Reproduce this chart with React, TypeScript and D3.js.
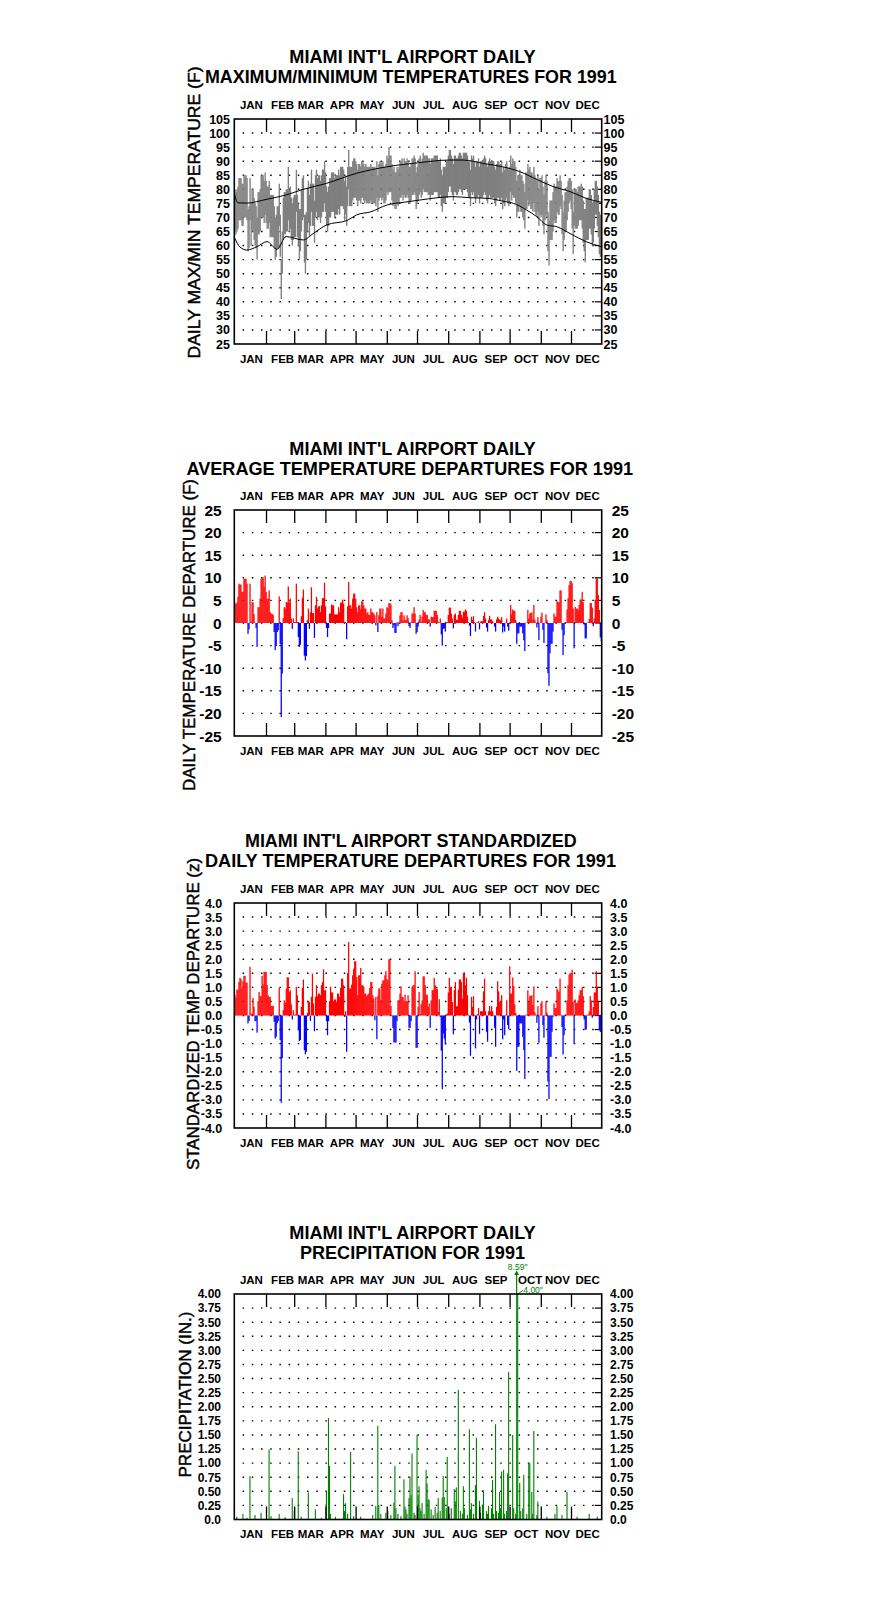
import * as d3 from "d3";

// ---- data (1991, Miami Int'l Airport) ----
const MONTHS = ["JAN", "FEB", "MAR", "APR", "MAY", "JUN", "JUL", "AUG", "SEP", "OCT", "NOV", "DEC"];
const MONTH_START = [0, 31, 59, 90, 120, 151, 181, 212, 243, 273, 304, 334];

const TEMP_TICKS = [105, 100, 95, 90, 85, 80, 75, 70, 65, 60, 55, 50, 45, 40, 35, 30, 25];
const DEP_TICKS = [25, 20, 15, 10, 5, 0, -5, -10, -15, -20, -25];
const Z_TICKS = [4, 3.5, 3, 2.5, 2, 1.5, 1, 0.5, 0, -0.5, -1, -1.5, -2, -2.5, -3, -3.5, -4];
const PRECIP_TICKS = [4, 3.75, 3.5, 3.25, 3, 2.75, 2.5, 2.25, 2, 1.75, 1.5, 1.25, 1, 0.75, 0.5, 0.25, 0];

// daily max / min temperature (F)
const maxTemp = [
  80, 79, 80, 81, 84, 84, 84, 82, 82, 85, 85, 85, 84, 73, 74, 84, 75, 80, 80, 77, 75, 74, 70, 79, 79, 80, 85, 85, 85, 83, 86,
  83, 81, 81, 83, 78, 78, 78, 78, 74, 70, 71, 74, 74, 82, 71, 55, 65, 77, 79, 79, 80, 80, 88, 80, 81, 77, 75, 77,
  78, 78, 87, 78, 75, 73, 73, 80, 84, 85, 71, 71, 72, 80, 83, 78, 82, 87, 82, 82, 76, 85, 87, 84, 85, 85, 83, 85, 87, 87, 90,
  86, 81, 79, 81, 84, 84, 86, 86, 86, 84, 85, 85, 85, 87, 85, 88, 88, 88, 87, 83, 85, 81, 88, 94, 88, 88, 88, 90, 91, 91,
  90, 89, 87, 89, 89, 88, 90, 90, 89, 88, 89, 88, 88, 88, 88, 89, 88, 88, 88, 88, 87, 90, 85, 89, 90, 90, 89, 90, 88, 88, 89,
  92, 91, 95, 92, 92, 89, 87, 88, 86, 86, 88, 87, 88, 90, 90, 91, 89, 91, 90, 90, 91, 90, 88, 88, 89, 91, 91, 92, 91, 86,
  88, 89, 91, 92, 90, 91, 93, 92, 92, 92, 92, 91, 91, 89, 91, 91, 91, 92, 92, 92, 92, 90, 90, 91, 87, 85, 88, 88, 88, 90, 90,
  92, 94, 94, 92, 91, 89, 92, 92, 91, 91, 92, 93, 93, 92, 91, 93, 93, 93, 93, 92, 90, 90, 87, 92, 91, 92, 90, 88, 90, 90, 91,
  88, 90, 90, 90, 91, 92, 91, 89, 88, 90, 91, 90, 90, 90, 90, 88, 87, 89, 90, 90, 89, 89, 90, 86, 88, 87, 89, 90, 88, 87,
  88, 92, 89, 91, 90, 90, 88, 83, 85, 85, 87, 85, 85, 83, 82, 79, 86, 86, 89, 87, 88, 86, 86, 85, 88, 85, 84, 83, 85, 80, 84,
  84, 85, 81, 78, 83, 85, 83, 72, 69, 76, 76, 76, 79, 82, 81, 81, 84, 83, 83, 85, 83, 78, 72, 76, 79, 79, 81, 83, 84, 84,
  83, 80, 72, 80, 80, 80, 79, 81, 81, 81, 82, 81, 76, 73, 73, 77, 77, 77, 80, 80, 78, 75, 76, 80, 83, 83, 81, 78, 72, 71, 71,
];
const minTemp = [
  65, 64, 65, 66, 69, 69, 69, 67, 67, 70, 70, 70, 69, 58, 59, 69, 60, 65, 65, 62, 60, 59, 55, 64, 64, 65, 70, 70, 70, 68, 71,
  68, 66, 66, 68, 63, 63, 63, 63, 59, 55, 56, 59, 59, 67, 56, 41, 50, 62, 64, 64, 65, 65, 69, 65, 66, 62, 60, 62,
  63, 63, 72, 63, 60, 55, 58, 65, 69, 70, 54, 50, 55, 65, 68, 63, 67, 72, 67, 67, 61, 70, 72, 69, 70, 70, 68, 70, 72, 72, 75,
  72, 67, 65, 67, 70, 70, 72, 72, 72, 70, 71, 71, 71, 73, 71, 74, 74, 74, 73, 69, 71, 67, 74, 80, 74, 74, 74, 76, 77, 77,
  77, 76, 74, 76, 76, 75, 77, 77, 76, 75, 76, 75, 75, 75, 75, 76, 75, 75, 75, 75, 74, 77, 72, 76, 77, 77, 76, 77, 75, 75, 76,
  79, 78, 79, 79, 79, 76, 74, 75, 73, 73, 75, 74, 75, 77, 77, 78, 76, 78, 77, 77, 78, 77, 75, 75, 76, 78, 78, 79, 78, 73,
  75, 76, 78, 79, 77, 78, 80, 79, 79, 79, 79, 78, 78, 76, 78, 78, 78, 79, 79, 79, 79, 77, 77, 78, 74, 72, 75, 75, 75, 77, 77,
  79, 81, 81, 79, 78, 76, 79, 79, 78, 78, 79, 80, 80, 79, 78, 80, 80, 80, 80, 79, 77, 77, 74, 79, 78, 79, 77, 75, 77, 77, 78,
  75, 77, 77, 77, 78, 79, 78, 76, 75, 77, 78, 77, 77, 77, 77, 75, 74, 76, 77, 77, 76, 76, 77, 73, 75, 74, 76, 77, 75, 74,
  75, 79, 76, 78, 77, 77, 75, 70, 72, 72, 74, 72, 72, 70, 69, 66, 73, 73, 76, 74, 75, 73, 73, 72, 75, 72, 71, 70, 72, 67, 71,
  70, 71, 67, 64, 69, 71, 70, 58, 53, 62, 62, 62, 65, 69, 68, 68, 72, 71, 71, 74, 73, 64, 58, 62, 65, 65, 69, 72, 75, 76,
  73, 66, 57, 67, 66, 66, 66, 67, 69, 69, 69, 66, 61, 58, 54, 62, 62, 62, 66, 66, 64, 60, 61, 66, 71, 71, 67, 63, 57, 56, 56,
];

// normal max / min curves (day of year, F)
const normMaxDays = [0, 3, 12, 31, 51, 68, 91, 121, 151, 184, 213, 227, 247, 266, 283, 300, 316, 333, 349, 364];
const normMaxVals = [78, 75.2, 75.1, 76.4, 78, 80, 82.1, 85.7, 88, 89.5, 90.4, 90.4, 89.2, 88, 86.3, 83.5, 81, 79.2, 76.8, 75.4];
const normMinDays = [0, 5, 12, 22, 32, 42, 51, 68, 78, 91, 112, 121, 135, 151, 168, 184, 201, 217, 234, 251, 266, 277, 290, 300, 310, 320, 333, 349, 364];
const normMinVals = [62.6, 59.5, 58.4, 59.6, 61.4, 58.7, 63.2, 62, 64.3, 67.3, 69, 70.9, 72, 74.4, 75.4, 76.2, 77, 77.4, 77, 76.8, 75.8, 75, 72.6, 70.3, 67.3, 66.7, 64.3, 61.4, 59.6];

// daily average temperature departure (F)
const tempDeparture = [
  4.5, 4.2, 4.5, 5.8, 8.7, 8.5, 8.5, 6.9, 6.9, 9.8, 9.8, 9.8, 8.7, -2.4, -1.4, 8.7, 0.3, 4.6, 4.6, 2.0, 0.1, -1.1, -5.3, 3.5, 3.5, 5.4, 9.8, 9.8, 10.1, 8.1, 10.5,
  6.9, 5.4, 5.4, 7.2, 2.4, 2.1, 2.0, 1.8, -2.0, -6.0, -5.1, -2.0, -1.6, 5.9, -4.7, -20.8, -11.2, 1.1, 3.5, 3.2, 4.6, 4.6, 8.1, 4.6, 5.4, 1.0, -1.3, 1.0,
  0.2, 0.2, 8.7, 0.2, -3.1, -5.3, -4.8, 1.5, 5.6, 7.4, -7.2, -8.3, -7.3, 0.6, 3.2, -1.3, 2.4, 7.9, 2.2, 2.2, -3.3, 3.9, 5.8, 3.2, 3.7, 3.7, 2.4, 3.9, 5.5, 5.5, 8.9,
  3.7, -1.1, -3.1, -1.1, 2.1, 2.1, 4.1, 3.9, 3.9, 1.9, 1.9, 1.9, 1.9, 3.5, 2.4, 4.5, 4.5, 5.2, 4.3, 0.2, 0.2, -3.6, 3.7, 9.1, 3.9, 3.9, 3.2, 5.4, 6.5, 6.5,
  5.4, 3.5, 2.4, 3.9, 3.9, 3.0, 4.8, 4.8, 3.9, 3.2, 3.2, 2.1, 2.4, 1.8, 1.8, 3.2, 2.4, 2.4, 2.1, 1.7, -0.5, 2.4, -2.0, 1.7, 3.2, 3.2, 1.3, 3.2, 1.0, 1.0, 2.1,
  3.5, 3.3, 4.4, 4.4, 4.1, 0.6, -1.1, -0.5, -2.2, -2.2, 0.2, -0.7, 0.2, 1.7, 2.4, 2.4, 0.6, 1.7, 0.7, 0.7, 1.7, 1.1, -0.7, -1.1, 0.2, 2.1, 2.1, 3.5, 2.1, -2.4,
  -2.0, -0.8, 0.8, 1.8, 0.3, 1.4, 2.9, 2.4, 2.4, 1.8, 1.8, 0.8, 0.8, -0.8, 1.4, 1.3, 1.3, 2.7, 2.7, 2.7, 1.8, 0.3, 0.1, 1.0, -2.5, -5.0, -1.3, -1.2, -1.9, 0.1, 0.2,
  1.8, 3.4, 3.4, 2.1, 1.0, -1.2, 1.8, 2.1, 0.7, 0.7, 1.8, 2.7, 2.7, 1.8, 1.2, 2.5, 2.5, 3.0, 2.7, 1.4, 0.2, -0.6, -2.9, 1.4, 0.7, 1.5, 0.2, -1.9, 0.1, 0.1, 0.4,
  -1.4, 0.3, 0.4, 0.4, 1.6, 2.4, 1.0, -1.0, -1.9, 0.7, 1.6, 0.8, 0.8, 0.4, 0.1, -0.8, -1.9, 0.8, 1.4, 1.0, 0.7, 0.7, 1.3, -2.1, -0.8, -1.9, 0.1, 1.0, -0.8, -1.7,
  0.1, 4.0, 1.9, 3.0, 2.7, 2.7, 0.7, -4.6, -2.3, -2.3, -0.8, -0.8, -0.8, -2.3, -3.8, -6.2, 0.1, 0.1, 2.9, 1.0, 2.1, 2.3, 2.3, 0.8, 4.0, 0.7, 0.1, -1.0, 1.3, -3.8, 0.1,
  1.4, 2.3, -1.5, -4.4, 0.1, 1.9, 0.7, -11.1, -13.9, -6.7, -4.6, -4.6, -1.9, 2.1, 1.4, 1.4, 4.9, 4.6, 4.6, 7.2, 7.2, -1.5, -7.1, -2.7, 0.1, 0.1, 3.0, 5.5, 8.4, 9.3,
  9.3, 8.8, 3.2, -5.6, 3.6, 3.2, 3.2, 2.9, 4.0, 5.2, 5.2, 6.9, 4.6, -0.4, -3.4, -3.4, 0.1, 0.1, 0.9, 4.4, 4.4, 3.4, -0.7, 1.0, 5.1, 9.9, 9.9, 6.2, 2.9, -3.2, -4.0,
];

// standardized daily departure (z)
const zDeparture = [
  0.74, 0.63, 0.92, 0.92, 1.19, 1.34, 1.3, 0.96, 1.22, 1.41, 1.41, 1.17, 1.17, -0.28, -0.2, 1.73, 0.07, 0.07, 0.63, 0.31, -0.2, -0.2, -0.61, 0.51, 0.84, 0.69, 0.69, 1.41, 1.1, 1.55, 1.55,
  1.55, 1.08, 0.72, 0.66, 0.66, 0.34, 0.34, 0.34, -0.22, -0.82, -0.76, -0.28, -0.2, 0.98, -0.87, -3.1, -1.52, 0.19, 0.54, 0.45, 0.96, 1.36, 1.36, 0.84, 0.9, 0.4, -0.14, 0.19,
  0.03, 0.03, 1.02, 0.72, -0.52, -0.91, -0.87, 0.31, 0.98, 1.28, -1.23, -1.38, -1.29, 0.09, 0.52, 0.48, -0.19, 0.66, 1.49, 0.43, -0.56, 0.66, 1.08, 0.69, 0.78, 0.78, 0.72, 1.08, 1.19, 1.64, 0.9,
  0.9, -0.2, -0.7, -0.2, 0.51, 1.02, 0.82, 0.82, 0.51, 0.57, 0.57, 0.48, 0.78, 0.78, 0.66, 0.98, 1.31, 1.31, 1.08, -0.05, 0.15, -1.29, 1.52, 2.61, 0.96, 0.96, 1.1, 1.43, 1.67, 1.93,
  1.93, 1.37, 0.72, 1.43, 1.43, 1.69, 1.08, 1.08, 1.02, 0.78, 0.78, 0.69, 0.74, 0.78, 0.98, 1.19, 1.19, 0.72, 0.6, -0.17, 0.66, -0.84, 0.69, 0.96, 0.96, 0.54, 1.13, 1.25, 1.25, 1.43, 1.58,
  1.3, 1.25, 2.0, 2.0, 0.34, 0.02, -0.44, -0.96, -0.96, -0.96, -0.2, 0.54, 0.54, 0.78, 1.04, 0.66, 0.66, 0.52, 0.74, 0.51, 0.51, 0.72, -0.44, -0.44, -0.2, 1.02, 1.08, 1.08, 1.57, -1.15,
  -1.15, 0.31, 0.84, 0.05, 0.4, 0.54, 1.39, 1.39, 1.08, 0.74, 0.74, 0.31, 0.43, -0.44, 0.54, 0.9, 0.9, 1.34, 1.08, 0.96, 0.96, 0.13, 0.58, -0.05, -1.25, -2.62, -0.64, -0.82, -1.03, 0.03, 0.07,
  0.82, 1.34, 1.02, 1.02, 0.48, -0.67, 0.9, 1.19, 0.33, 0.33, 0.92, 1.28, 1.28, 1.19, 0.6, 1.49, 1.49, 1.08, 1.34, 0.72, 0.03, -0.25, -1.43, 0.66, 0.31, 0.69, 0.03, -1.17, -0.14, 0.05, 0.27,
  -0.65, 0.15, 0.15, 0.15, 0.86, 1.31, 0.15, -0.58, -0.93, 0.15, 0.34, 0.15, 0.33, 0.15, 0.03, -0.44, -1.11, 0.31, 1.22, 0.86, 0.48, 0.48, 0.72, -0.85, -0.14, -0.7, 0.03, 0.54, -0.34, -0.48,
  1.75, 0.78, 0.78, 1.35, 1.05, 0.4, 0.09, -1.97, -1.11, -1.11, -0.28, -0.28, -0.28, -0.76, -1.23, -2.26, 0.03, 0.03, 0.9, 0.48, 0.7, 0.7, 0.72, 0.37, 1.04, 0.11, 0.03, -0.26, 0.33, -0.97, 0.03,
  0.43, 0.51, -0.34, -0.79, 0.03, 0.51, 0.11, -2.35, -2.97, -1.47, -1.47, -0.58, -0.05, 0.43, 0.27, 0.27, 0.96, 0.9, 0.84, 1.31, 0.03, -0.41, -1.39, -0.7, 0.03, 0.03, 0.54, 1.08, 1.45, 1.51,
  1.51, 1.63, 0.48, -1.0, 0.57, 0.45, 0.45, 0.54, 0.72, 0.9, 0.9, 1.02, 0.69, -0.14, -0.5, -0.5, 0.03, 0.03, 0.15, 0.69, 0.54, -0.08, 0.31, 0.82, 0.82, 1.57, 1.02, 0.48, -0.52, -0.58, -0.58,
];

// daily precipitation (day of year, inches); zero days omitted
const precipDays = [
  2, 8, 12, 15, 20, 26, 34, 36, 44, 50, 57, 59, 63, 66, 73, 80, 86, 91, 93, 94, 95, 100, 108, 109, 110, 112, 115, 118,
  125, 137, 140, 142, 143, 145, 150, 152, 155, 158, 159, 160, 162, 165, 168, 169, 170, 171, 173, 174, 175, 176, 178, 179,
  181, 182, 183, 184, 185, 186, 188, 190, 191, 192, 193, 195, 197, 199, 201, 202, 204, 206, 207, 208, 210, 211,
  213, 215, 218, 219, 220, 222, 224, 226, 227, 228, 231, 233, 234, 235, 237, 239, 240,
  243, 244, 246, 247, 250, 251, 252, 255, 256, 257, 259, 260, 262, 263, 264, 265, 267, 268, 270, 271, 272,
  276, 277, 279, 280, 281, 283, 284, 286, 287, 290, 292, 293, 295, 296, 297, 300, 301, 310, 318, 320, 325, 330, 340, 352, 360,
];
const precipInches = [
  0.05, 0.1, 0.03, 0.77, 0.08, 0.12, 1.24, 0.06, 0.1, 0.04, 0.38, 0.15, 1.21, 0.05, 0.48, 0.18, 0.03, 0.5, 1.8, 0.95, 0.1, 0.05, 0.45, 0.15, 0.29, 0.1, 1.2, 0.06,
  0.05, 0.08, 0.24, 1.66, 0.26, 0.1, 0.12, 0.15, 0.08, 0.3, 0.95, 0.2, 0.1, 0.06, 0.71, 0.23, 0.18, 0.1, 0.38, 0.76, 0.43, 1.17, 0.12, 0.08,
  1.5, 0.43, 0.59, 0.2, 0.15, 0.29, 0.1, 0.88, 0.64, 0.36, 0.35, 0.18, 0.08, 0.22, 0.12, 0.38, 0.15, 0.39, 0.77, 0.4, 0.2, 1.11,
  0.1, 0.2, 0.54, 0.32, 0.57, 2.3, 0.15, 0.1, 0.59, 0.2, 0.08, 1.6, 0.18, 0.29, 0.1, 0.61, 1.45,
  0.33, 0.12, 0.26, 0.52, 0.15, 0.1, 0.24, 0.2, 0.7, 0.1, 1.69, 0.15, 0.12, 0.49, 0.2, 0.85, 0.88, 0.1, 0.15, 0.82, 2.62,
  1.5, 0.2, 0.1, 8.59, 4.0, 0.65, 0.15, 0.2, 0.79, 0.1, 1.01, 1.0, 0.49, 0.1, 1.57, 0.08, 0.32, 0.05, 0.1, 0.24, 0.08, 0.49, 0.05, 0.1, 0.05,
];

// ---- layout ----
const FONT = "'Liberation Sans', Arial, Helvetica, sans-serif";
const X0 = 234.3;
const X1 = 601.7;
const x = d3.scaleLinear().domain([0, 365]).range([X0, X1]);

type PanelCfg = {
  top: number;
  bottom: number;
  domain: [number, number];
  ticks: number[];
  fmt: (v: number) => string;
  labelSize: number;
  leftX: number;
  rightX: number;
  titles: string[];
  titleY: number[];
  titleX: number[];
  titleW: number[];
  yTitle: string;
  yTitleX: number;
  yTitleY: number;
  yTitleW: number;
  topMonthShift?: Record<number, number>;
};

const L1 = "MIAMI INT'L AIRPORT DAILY";

const P1: PanelCfg = {
  top: 119, bottom: 344, domain: [25, 105], ticks: TEMP_TICKS, fmt: (v) => String(v),
  labelSize: 12.5, leftX: 230, rightX: 603.5,
  titles: [L1, "MAXIMUM/MINIMUM TEMPERATURES FOR 1991"], titleY: [63.3, 83.3], titleX: [412.5, 410.8], titleW: [246.3, 411.7],
  yTitle: "DAILY MAX/MIN TEMPERATURE (F)", yTitleX: 200, yTitleY: 212.5, yTitleW: 292,
};
const P2: PanelCfg = {
  top: 510, bottom: 736, domain: [-25, 25], ticks: DEP_TICKS, fmt: (v) => String(v),
  labelSize: 15.5, leftX: 221.7, rightX: 611.7,
  titles: [L1, "AVERAGE TEMPERATURE DEPARTURES FOR 1991"], titleY: [455, 475], titleX: [412.5, 409.8], titleW: [246.3, 446.7],
  yTitle: "DAILY TEMPERATURE DEPARTURE (F)", yTitleX: 195, yTitleY: 635, yTitleW: 312,
};
const P3: PanelCfg = {
  top: 903, bottom: 1128, domain: [-4, 4], ticks: Z_TICKS, fmt: (v) => v.toFixed(1),
  labelSize: 12.5, leftX: 222.3, rightX: 610,
  titles: ["MIAMI INT'L AIRPORT STANDARDIZED", "DAILY TEMPERATURE DEPARTURES FOR 1991"], titleY: [847.3, 867.3], titleX: [410.8, 410.5], titleW: [331.7, 411],
  yTitle: "STANDARDIZED TEMP DEPARTURE (z)", yTitleX: 199.3, yTitleY: 1014, yTitleW: 312,
};
const P4: PanelCfg = {
  top: 1294, bottom: 1519.5, domain: [0, 4], ticks: PRECIP_TICKS, fmt: (v) => (v === 0 ? "0.0" : v.toFixed(2)),
  labelSize: 12, leftX: 221, rightX: 610,
  titles: [L1, "PRECIPITATION FOR 1991"], titleY: [1239.3, 1259], titleX: [412.5, 412.5], titleW: [246.3, 225],
  yTitle: "PRECIPITATION (IN.)", yTitleX: 190.7, yTitleY: 1394.5, yTitleW: 166,
  topMonthShift: { 9: 4 },
};

function Panel({ cfg, children }: { cfg: PanelCfg; children: (y: d3.ScaleLinear<number, number>) => any }) {
  const y = d3.scaleLinear().domain(cfg.domain).range([cfg.bottom, cfg.top]);
  const [lo, hi] = cfg.domain;
  const gridVals = cfg.ticks.filter((t) => t !== lo && t !== hi);
  return (
    <g fontFamily={FONT}>
      {cfg.titles.map((t, i) => (
        <text key={t} x={cfg.titleX[i]} y={cfg.titleY[i]} textAnchor="middle" fontWeight="bold" fontSize={18}
          textLength={cfg.titleW[i]} lengthAdjust="spacingAndGlyphs">{t}</text>
      ))}
      <text transform={`translate(${cfg.yTitleX},${cfg.yTitleY}) rotate(-90)`} textAnchor="middle" fontSize={17}
        stroke="#000" strokeWidth={0.45}
        textLength={cfg.yTitleW} lengthAdjust="spacingAndGlyphs">{cfg.yTitle}</text>
      {MONTHS.map((m, i) => (
        <g key={m} fontWeight="bold" fontSize={11.5} textAnchor="middle">
          <text x={x(MONTH_START[i] + 17) + (cfg.topMonthShift?.[i] ?? 0)} y={cfg.top - 10}>{m}</text>
          <text x={x(MONTH_START[i] + 17)} y={cfg.bottom + 18.5}>{m}</text>
        </g>
      ))}
      {gridVals.map((v) => (
        <g key={v}>
          <line x1={X0 + 8.3} x2={X1 - 8} y1={y(v)} y2={y(v)} stroke="#000" strokeWidth={1.4} strokeDasharray="1.5 7.7" />
          <line x1={X1 - 7} x2={X1} y1={y(v)} y2={y(v)} stroke="#000" strokeWidth={1.2} />
        </g>
      ))}
      {children(y)}
      {MONTH_START.slice(1).map((d) => (
        <g key={d} stroke="#000" strokeWidth={1.3}>
          <line x1={x(d + 1)} x2={x(d + 1)} y1={cfg.top} y2={cfg.top + 13} />
          <line x1={x(d + 1)} x2={x(d + 1)} y1={cfg.bottom - 13} y2={cfg.bottom} />
        </g>
      ))}
      <rect x={X0} y={cfg.top} width={X1 - X0} height={cfg.bottom - cfg.top} fill="none" stroke="#000" strokeWidth={1.6} />
      {cfg.ticks.map((v) => (
        <g key={v} fontWeight="bold" fontSize={cfg.labelSize}>
          <text x={cfg.leftX} y={y(v)} dy="0.36em" textAnchor="end">{cfg.fmt(v)}</text>
          <text x={cfg.rightX} y={y(v)} dy="0.36em" textAnchor="start">{cfg.fmt(v)}</text>
        </g>
      ))}
    </g>
  );
}

function depBars(values: number[], y: d3.ScaleLinear<number, number>) {
  const w = x(1) - x(0) + 0.25;
  return values.map((v, i) => {
    const y0 = y(0);
    const yv = y(v);
    return (
      <rect key={i} x={x(i)} width={w} y={Math.min(y0, yv)} height={Math.abs(yv - y0)}
        fill={v >= 0 ? "#ff0000" : "#0000ff"} />
    );
  });
}

export default function App() {
  const normMaxLine = d3.line<number>().x((d) => x(d + 0.5)).curve(d3.curveMonotoneX);
  const normMinLine = d3.line<number>().x((d) => x(d + 0.5)).curve(d3.curveMonotoneX);
  const bigIdx = precipInches.indexOf(8.59);
  const fourIdx = bigIdx + 1;

  return (
    <div style={{ position: "absolute", left: 0, top: 0, background: "#fff" }}>
      <svg width={876} height={1606} viewBox="0 0 876 1606" style={{ display: "block" }}>
        <rect width={876} height={1606} fill="#fff" />

        <Panel cfg={P1}>
          {(y) => (
            <g>
              {maxTemp.map((mx, i) => (
                <rect key={i} x={x(i)} width={x(1) - x(0) + 0.35} y={y(mx)} height={y(minTemp[i]) - y(mx)} fill="#7f7f7f" />
              ))}
              <path
                d={normMaxLine.y((_, i) => y(normMaxVals[i]))(normMaxDays) ?? ""}
                fill="none" stroke="#000" strokeWidth={1} />
              <path
                d={normMinLine.y((_, i) => y(normMinVals[i]))(normMinDays) ?? ""}
                fill="none" stroke="#000" strokeWidth={1} />
            </g>
          )}
        </Panel>

        <Panel cfg={P2}>{(y) => <g>{depBars(tempDeparture, y)}</g>}</Panel>

        <Panel cfg={P3}>{(y) => <g>{depBars(zDeparture, y)}</g>}</Panel>

        <Panel cfg={P4}>
          {(y) => (
            <g>
              {precipDays.map((d, i) => {
                const v = Math.min(precipInches[i], 4);
                return <rect key={d} x={x(d)} width={1.1} y={y(v)} height={y(0) - y(v)} fill="#008000" />;
              })}
              {/* off-scale day: arrow and value */}
              <g stroke="#008000" fill="#008000">
                <line x1={x(precipDays[bigIdx]) + 0.5} x2={x(precipDays[bigIdx]) + 0.5} y1={y(4)} y2={1272} strokeWidth={1.2} />
                <path d={`M${x(precipDays[bigIdx]) + 0.5},${1270.5} l-2.5,4.5 h5 z`} stroke="none" />
                <line x1={x(precipDays[fourIdx]) + 0.6} y1={y(4)} x2={523} y2={1290.5} strokeWidth={0.9} />
              </g>
              <g fill="#008000" fontFamily={FONT} fontSize={8.5}>
                <text x={x(precipDays[bigIdx]) + 1.5} y={1269.5} textAnchor="middle">{`${precipInches[bigIdx].toFixed(2)}"`}</text>
                <text x={523.3} y={1292.5}>{`${precipInches[fourIdx].toFixed(2)}"`}</text>
              </g>
            </g>
          )}
        </Panel>
      </svg>
    </div>
  );
}
